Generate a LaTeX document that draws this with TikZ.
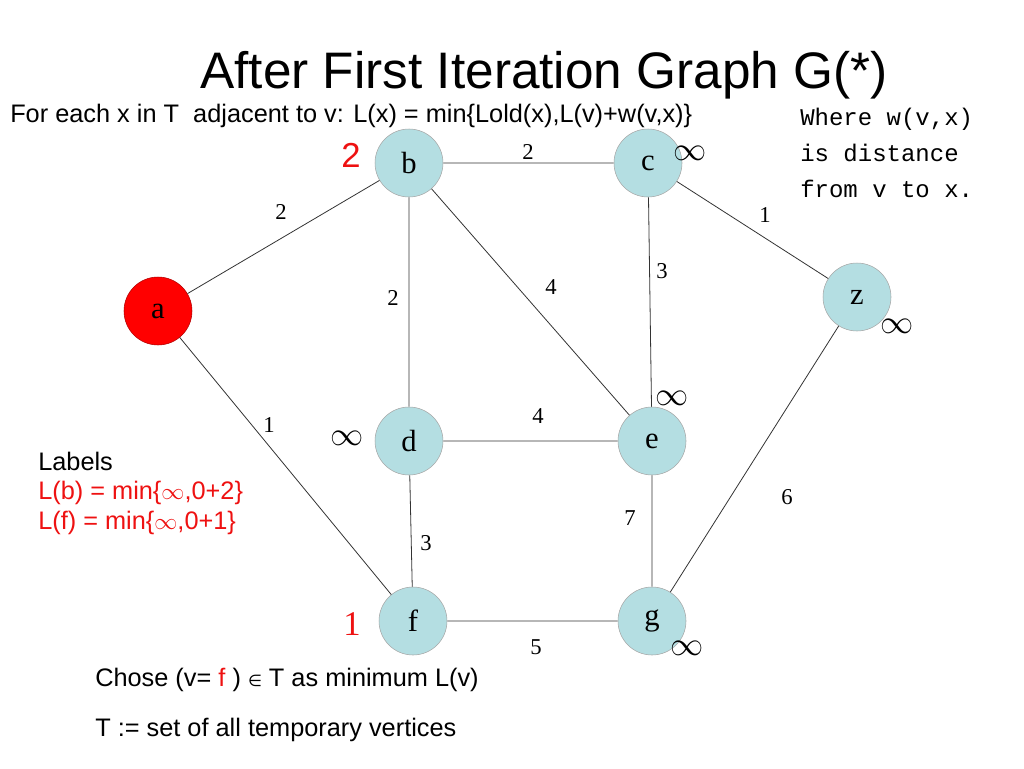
\documentclass[tikz,border=0pt]{standalone}
\usepackage{fontspec}
\setmainfont{Liberation Serif}
\setsansfont{Liberation Sans}
\setmonofont{Liberation Mono}
\newfontfamily\dvs{DejaVu Sans}
\definecolor{nodeblue}{HTML}{B4DEE2}
\definecolor{lblred}{HTML}{EE1111}
\begin{document}
\begin{tikzpicture}[x=0.75pt,y=-0.75pt,
  vtx/.style={circle,draw=gray!70,fill=nodeblue,minimum size=51pt,inner sep=0pt,font=\fontsize{23}{26}\selectfont},
  edge/.style={draw=black!80,line width=0.6pt},
  wt/.style={font=\fontsize{17}{20}\selectfont},
  inf/.style={font=\fontsize{26}{28}\selectfont},
  txt/.style={font=\sffamily\fontsize{19}{22}\selectfont,anchor=west,inner sep=0pt}]
\useasboundingbox (0,0) rectangle (1024,768);
\node[vtx,fill=red,draw=red!70!black] (a) at (158,311) {a};
\node[vtx] (b) at (409,163) {b};
\node[vtx] (c) at (648,163) {c};
\node[vtx] (z) at (857,297) {z};
\node[vtx] (d) at (409,441) {d};
\node[vtx] (e) at (652,441) {e};
\node[vtx] (f) at (413,621) {f};
\node[vtx] (g) at (652,621) {g};
\draw[edge] (a)--(b) (b)--(c) (c)--(z) (c)--(e) (b)--(e) (b)--(d) (a)--(f) (d)--(e) (z)--(g) (e)--(g) (d)--(f) (f)--(g);
\node[wt] (w1) at (281,212) {2};
\node[wt] (w2) at (528,152) {2};
\node[wt] (w3) at (765,215) {1};
\node[wt] (w4) at (662,271) {3};
\node[wt] (w5) at (551,287) {4};
\node[wt] (w6) at (393,298) {2};
\node[wt] (w7) at (269,425) {1};
\node[wt] (w8) at (538,416) {4};
\node[wt] (w9) at (787,497) {6};
\node[wt] (w10) at (630,518) {7};
\node[wt] (w11) at (426,543) {3};
\node[wt] (w12) at (536,647) {5};
\node[inf] (ic) at (690,153) {$\infty$};
\node[inf] (iz) at (897,326) {$\infty$};
\node[inf] (ie) at (672,398) {$\infty$};
\node[inf] (id) at (347,438) {$\infty$};
\node[inf] (ig) at (687,648) {$\infty$};
\node[text=lblred,font=\sffamily\fontsize{26}{28}\selectfont] (lb) at (351,155) {2};
\node[text=lblred,font=\fontsize{26}{28}\selectfont] (lf) at (352,624) {1};
\node[font=\sffamily\fontsize{38.5}{44}\selectfont] (title) at (544,75) {After First Iteration Graph G(*)};
\node[txt] (t1) at (10,116) {For each x in T\ \ adjacent to v: L(x) = min\{Lold(x),L(v)+w(v,x)\}};
\node[font=\ttfamily\fontsize{18}{27}\selectfont,align=left,anchor=north west,inner sep=0pt] (t2) at (800,108) {Where w(v,x)\\is distance\\from v to x.};
\node[txt,align=left,anchor=north west] (t3) at (38,452) {Labels\\\textcolor{lblred}{L(b) = min\{$\infty$,0+2\}}\\\textcolor{lblred}{L(f) = min\{$\infty$,0+1\}}};
\node[txt] (t4) at (95,680) {Chose (v= \textcolor{lblred}{f} ) {\dvs\fontsize{12}{12}\selectfont ∈} T as minimum L(v)};
\node[txt] (t5) at (95,730) {T := set of all temporary vertices};
\end{tikzpicture}
\end{document}
